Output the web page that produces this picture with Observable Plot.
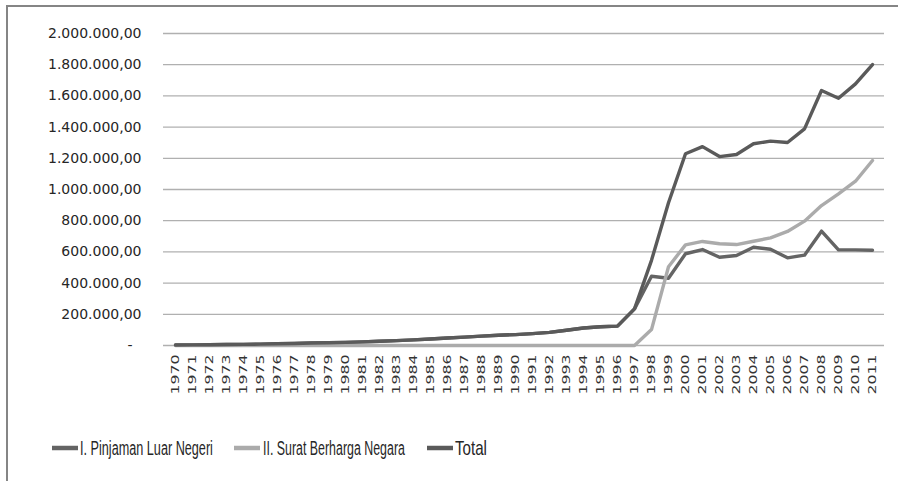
<!DOCTYPE html>
<html><head><meta charset="utf-8">
<script src="https://cdn.jsdelivr.net/npm/d3@7"></script>
<script src="https://cdn.jsdelivr.net/npm/@observablehq/plot@0.6"></script>
<style>
html,body{margin:0;padding:0;background:#fff;width:898px;height:481px;overflow:hidden;}
#frame{position:absolute;left:6px;top:5px;width:1000px;height:1000px;border:2px solid #858585;box-sizing:border-box;}
#chart{position:absolute;left:0;top:0;}
#legend{position:absolute;left:0;top:410px;}
</style></head><body>
<div id="frame"></div><div id="chart"></div><div id="legend"></div>
<script>
const years = [1970,1971,1972,1973,1974,1975,1976,1977,1978,1979,1980,1981,1982,1983,1984,1985,1986,1987,1988,1989,1990,1991,1992,1993,1994,1995,1996,1997,1998,1999,2000,2001,2002,2003,2004,2005,2006,2007,2008,2009,2010,2011];
const pinjaman = [3000,4000,5000,6000,7000,9000,11000,13000,16000,18000,20000,23000,27000,31000,36000,42000,48000,54000,60000,66000,70000,76000,84000,98000,112000,120000,124000,235000,444000,431000,588000,615000,566000,577000,630000,617000,562000,579000,733000,613000,613000,611000];
const sbn = [0,0,0,0,0,0,0,0,0,0,0,0,0,0,0,0,0,0,0,0,0,0,0,0,0,0,0,0,102000,505000,645000,667000,652000,647000,668000,690000,731000,797000,897000,972000,1053000,1186000];
const total = [3000,4000,5000,6000,7000,9000,11000,13000,16000,18000,20000,23000,27000,31000,36000,42000,48000,54000,60000,66000,70000,76000,84000,98000,112000,120000,124000,235000,546000,915000,1229000,1275000,1211000,1224000,1293000,1310000,1301000,1389000,1635000,1585000,1677000,1801000];
const seriesNames = ["I. Pinjaman Luar Negeri","II. Surat Berharga Negara","Total"];
const seriesColors = ["#646464","#ababab","#5a5a5a"];
const yTicks = [0,200000,400000,600000,800000,1000000,1200000,1400000,1600000,1800000,2000000];

const locale = d3.formatLocale({decimal:",",thousands:".",grouping:[3],currency:["",""]});
const f = locale.format(",.2f");
const fmt = v => v === 0 ? "-\u00a0\u00a0" : f(v);

const rows = [];
years.forEach((yr,i)=>{
  rows.push({year:yr,value:pinjaman[i],series:seriesNames[0]});
  rows.push({year:yr,value:sbn[i],series:seriesNames[1]});
  rows.push({year:yr,value:total[i],series:seriesNames[2]});
});

const chart = Plot.plot({
  width:898, height:410,
  marginLeft:163, marginRight:14, marginTop:33, marginBottom:65,
  style:{background:"transparent", fontFamily:"DejaVu Sans", color:"#262626"},
  x:{type:"point", domain:years, padding:0.5, label:null},
  y:{domain:[0,2000000], label:null},
  color:{domain:seriesNames, range:seriesColors},
  marks:[
    Plot.ruleY(yTicks,{stroke:"#b0b0b0",strokeWidth:1.3}),
    Plot.axisY(yTicks,{tickSize:0,tickPadding:22,tickFormat:fmt,fontSize:14,fill:"#262626",label:null}),
    Plot.axisX(years,{tickSize:0,tickRotate:-90,tickPadding:9,tickFormat:d=>String(d),fontSize:11,fill:"#333",label:null}),
    Plot.line(rows,{x:"year",y:"value",z:"series",stroke:"series",strokeWidth:3.4,strokeLinejoin:"round"})
  ]
});
document.getElementById("chart").appendChild(chart);
d3.select(chart).selectAll('g[aria-label="x-axis tick label"] text')
  .attr("textLength",40).attr("lengthAdjust","spacingAndGlyphs");

// legend
const lg = d3.select("#legend").append("svg").attr("width",898).attr("height",71);
const swX = [52,234,427], txX = [80,263,455], txL = [133,142,32];
seriesNames.forEach((n,i)=>{
  lg.append("line").attr("x1",swX[i]).attr("x2",swX[i]+26).attr("y1",38).attr("y2",38)
    .attr("stroke",seriesColors[i]).attr("stroke-width",4.5);
  const g = lg.append("g");
  const t = g.append("text").attr("x",0).attr("y",0).text(n)
    .attr("font-family","Liberation Sans").attr("font-size",21).attr("fill","#262626");
  const w = t.node().getComputedTextLength();
  g.attr("transform",`translate(${txX[i]},45) scale(${txL[i]/w},1)`);
});
</script>
</body></html>
